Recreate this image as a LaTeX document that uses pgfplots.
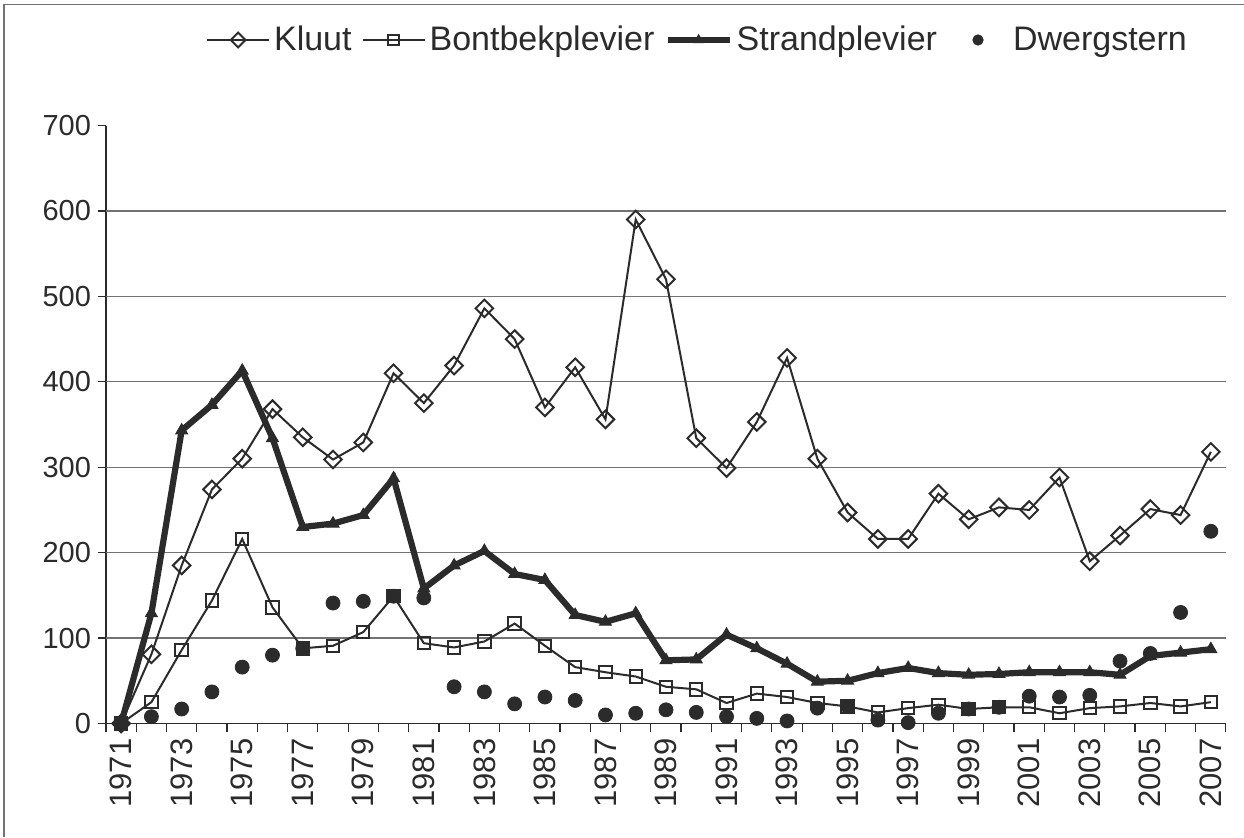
\documentclass[border=0pt]{standalone}
\usepackage{pgfplots}
\pgfplotsset{compat=1.18}
\usepackage{pgfplotstable}
\usepackage{fontspec}
\setmainfont{Liberation Sans}
\definecolor{ink}{rgb}{0.17,0.17,0.17}
\definecolor{gridc}{rgb}{0.45,0.45,0.45}
\pgfplotstableread{
year kluut bont strand dwerg
1971 0 0 0 0
1972 81 25 129 8
1973 185 86 343 17
1974 274 144 373 37
1975 310 216 413 66
1976 368 136 334 80
1977 335 88 230 88
1978 309 91 234 141
1979 329 107 244 143
1980 410 149 287 149
1981 375 94 158 147
1982 419 89 185 43
1983 486 96 202 37
1984 450 117 175 23
1985 370 91 168 31
1986 417 66 127 27
1987 356 60 119 10
1988 590 55 129 12
1989 520 43 74 16
1990 334 40 75 13
1991 299 24 104 8
1992 353 35 88 6
1993 428 31 70 3
1994 310 24 49 18
1995 247 20 50 20
1996 216 13 59 4
1997 216 18 65 1
1998 269 22 59 12
1999 239 17 57 17
2000 253 19 58 19
2001 250 19 60 32
2002 288 12 60 31
2003 190 18 60 33
2004 220 20 57 73
2005 251 24 79 82
2006 244 20 83 130
2007 318 25 87 225
}\data
\begin{document}
\begin{tikzpicture}
\path[use as bounding box] (-53pt,-56.75pt) rectangle (569pt,361.75pt);
\draw[gridc,line width=0.6pt] (-51pt,-56.75pt) -- (-51pt,359.5pt) -- (569pt,359.5pt);
\begin{axis}[
  at={(0,0)}, anchor=south west,
  scale only axis, width=560pt, height=299pt,
  xmin=1970.5, xmax=2007.5, ymin=0, ymax=700,
  axis x line*=bottom, axis y line*=left,
  axis line style={ink,line width=0.7pt,-},
  clip=false,
  /pgf/number format/assume math mode=true,
  xtick={1971,1973,...,2007},
  xticklabel style={rotate=90,anchor=east,font=\fontsize{15.5}{15.5}\selectfont,text=ink},
  x tick label style={/pgf/number format/1000 sep={}},
  minor xtick={1970.5,1971.5,...,2007.5},
  ytick={0,100,...,700},
  yticklabel style={font=\fontsize{14.5}{14.5}\selectfont,text=ink},
  tick align=outside,
  tick style={ink,line width=0.6pt},
  xtick style={draw=none},
  minor x tick style={draw=ink},
  major tick length=4pt, minor tick length=4pt,
  extra y ticks={100,200,...,600},
  extra y tick labels={},
  extra y tick style={grid=major, major tick length=0pt},
  grid style={gridc,line width=0.6pt},
  legend columns=-1,
  legend style={at={(0.529,1.143)},anchor=center,draw=none,fill=none,
    font=\fontsize{17}{17}\selectfont,text=ink,
    nodes={inner sep=2pt},
    /tikz/every even column/.append style={column sep=3pt}},
  legend image code/.code={\path[draw=none,fill=none] (0pt,-2pt) rectangle (31pt,2pt);\draw[mark repeat=2,mark phase=2,#1,mark size=2.6pt] plot coordinates {(0pt,0pt)(15.5pt,0pt)(31pt,0pt)};},
]
\addplot[ink,line width=1pt,mark=square,mark options={rotate=45,fill=white,line width=1pt,solid},mark size=3.1pt] table[x=year,y=kluut]{\data};
\addlegendentry{Kluut}
\addplot[ink,line width=1pt,mark=square,mark options={fill=white,line width=1pt,solid},mark size=3.1pt] table[x=year,y=bont]{\data};
\addlegendentry{Bontbekplevier}
\addplot[ink,line width=3.1pt,mark=triangle*,mark options={fill=ink,line width=0.5pt},mark size=3.4pt] table[x=year,y=strand]{\data};
\addlegendentry{Strandplevier}
\addplot[ink,only marks,mark=*,mark options={fill=ink},mark size=3.5pt] table[x=year,y=dwerg]{\data};
\addlegendentry{Dwergstern}
\end{axis}
\end{tikzpicture}
\end{document}
